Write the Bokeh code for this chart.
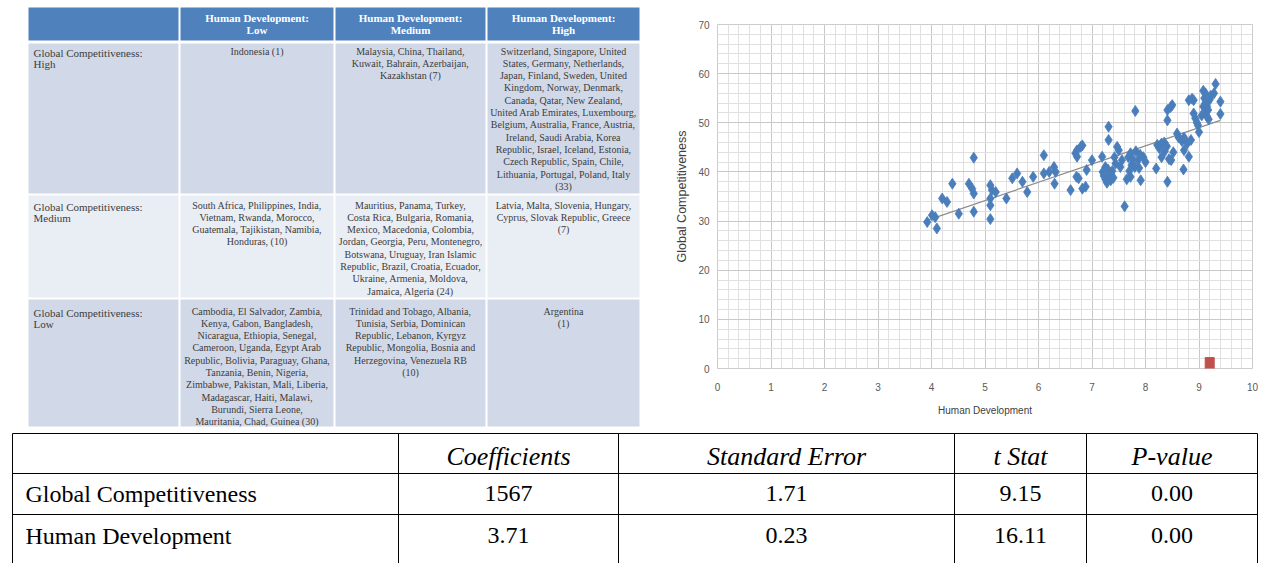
from bokeh.plotting import figure
from bokeh.models import Range1d, SingleIntervalTicker, ColumnDataSource
from bokeh.layouts import column, row
from bokeh.embed import file_html
from bokeh.resources import INLINE
from bokeh.core.properties import value

# ---------------- data: classification table ----------------
hd_headers = ["Human Development:\nLow", "Human Development:\nMedium", "Human Development:\nHigh"]
gc_labels = ["Global Competitiveness:\nHigh", "Global Competitiveness:\nMedium", "Global Competitiveness:\nLow"]
cells_gc_high = [
    "Indonesia (1)",
    "Malaysia, China, Thailand,\nKuwait, Bahrain, Azerbaijan,\nKazakhstan (7)",
    "Switzerland, Singapore, United\nStates, Germany, Netherlands,\nJapan, Finland, Sweden, United\n"
    "Kingdom, Norway, Denmark,\nCanada, Qatar, New Zealand,\nUnited Arab Emirates, Luxembourg,\n"
    "Belgium, Australia, France, Austria,\nIreland, Saudi Arabia, Korea\nRepublic, Israel, Iceland, Estonia,\n"
    "Czech Republic, Spain, Chile,\nLithuania, Portugal, Poland, Italy\n(33)",
]
cells_gc_medium = [
    "South Africa, Philippines, India,\nVietnam, Rwanda, Morocco,\nGuatemala, Tajikistan, Namibia,\nHonduras, (10)",
    "Mauritius, Panama, Turkey,\nCosta Rica, Bulgaria, Romania,\nMexico, Macedonia, Colombia,\n"
    "Jordan, Georgia, Peru, Montenegro,\nBotswana, Uruguay, Iran Islamic\nRepublic, Brazil, Croatia, Ecuador,\n"
    "Ukraine, Armenia, Moldova,\nJamaica, Algeria (24)",
    "Latvia, Malta, Slovenia, Hungary,\nCyprus, Slovak Republic, Greece\n(7)",
]
cells_gc_low = [
    "Cambodia, El Salvador, Zambia,\nKenya, Gabon, Bangladesh,\nNicaragua, Ethiopia, Senegal,\n"
    "Cameroon, Uganda, Egypt Arab\nRepublic, Bolivia, Paraguay, Ghana,\nTanzania, Benin, Nigeria,\n"
    "Zimbabwe, Pakistan, Mali, Liberia,\nMadagascar, Haiti, Malawi,\nBurundi, Sierra Leone,\n"
    "Mauritania, Chad, Guinea (30)",
    "Trinidad and Tobago, Albania,\nTunisia, Serbia, Dominican\nRepublic, Lebanon, Kyrgyz\n"
    "Republic, Mongolia, Bosnia and\nHerzegovina, Venezuela RB\n(10)",
    "Argentina\n(1)",
]

# ---------------- data: scatter ----------------
human_dev = [3.92, 4.01, 4.07, 4.10, 4.20, 4.29, 4.39, 4.51, 4.70, 4.76, 4.79, 4.79, 4.79,
             5.10, 5.13, 5.20, 5.10, 5.10, 5.10,
             5.40, 5.51, 5.60, 5.70, 5.79, 5.90, 6.10, 6.10, 6.20, 6.29, 6.32, 6.30,
             6.60, 6.69, 6.72, 6.71, 6.72, 6.79, 6.82, 6.75, 6.82, 6.88, 6.90, 7.00,
             7.19, 7.31, 7.31, 7.20, 7.22, 7.25, 7.28, 7.30, 7.33, 7.35, 7.25, 7.38, 7.40,
             7.47, 7.50, 7.44, 7.53, 7.56, 7.61, 7.42,
             7.68, 7.72, 7.76, 7.82, 7.86, 7.90, 7.96, 7.70, 7.74, 7.80, 7.72, 7.88, 7.91, 7.81, 7.65, 8.00,
             8.22, 8.26, 8.30, 8.36, 8.40, 8.30, 8.44, 8.48, 8.20, 8.41, 8.41, 8.47, 8.50, 8.41, 8.35, 8.52,
             8.59, 8.62, 8.68, 8.72, 8.78, 8.72, 8.81, 8.71, 8.81, 8.87, 8.90, 8.90, 8.93, 8.96, 8.98, 9.00, 8.85,
             9.08, 9.12, 9.10, 9.12, 9.15, 9.17, 9.08, 9.12, 9.15, 9.18, 9.20, 9.31, 9.28, 9.40, 9.40, 9.22, 9.05]
global_comp = [29.8, 31.2, 30.8, 28.5, 34.6, 33.9, 37.6, 31.5, 37.6, 36.6, 35.6, 31.9, 42.9,
               37.3, 36.3, 35.9, 34.6, 33.2, 30.4,
               34.6, 38.7, 39.7, 38.0, 35.9, 39.0, 43.4, 39.7, 40.0, 41.0, 40.0, 37.6,
               36.3, 43.8, 44.4, 39.0, 43.1, 45.1, 45.4, 38.7, 36.6, 37.0, 40.4, 42.4,
               43.1, 49.2, 46.5, 40.0, 39.2, 38.5, 37.8, 40.5, 39.5, 38.3, 41.0, 40.2, 38.8,
               45.1, 44.4, 41.7, 41.0, 42.4, 33.0, 43.0,
               43.0, 43.8, 42.6, 44.2, 42.4, 43.5, 43.0, 40.2, 41.4, 41.0, 39.0, 40.8, 38.3, 52.4, 38.5, 42.0,
               45.5, 44.8, 45.8, 44.2, 45.2, 43.0, 42.6, 42.4, 40.7, 38.0, 52.6, 53.2, 53.6, 50.5, 46.0, 44.0,
               47.8, 47.0, 46.3, 47.0, 45.8, 44.4, 43.1, 40.5, 54.6, 54.9, 54.6, 51.9, 50.9, 50.0, 49.5, 48.1, 46.5,
               56.5, 56.0, 55.0, 54.0, 53.3, 52.6, 53.3, 52.0, 51.3, 50.7, 54.7, 57.9, 56.0, 54.3, 51.8, 55.5, 51.5]
outlier_hd = [9.2]
outlier_gc = [1.0]
trend_hd = [3.9, 9.4]
trend_gc = [30.1, 50.5]

# ---------------- data: regression table ----------------
reg_columns = ["Coefficients", "Standard Error", "t Stat", "P-value"]
reg_rows = ["Global Competitiveness", "Human Development"]
reg_coef = ["1567", "3.71"]
reg_se = ["1.71", "0.23"]
reg_t = ["9.15", "16.11"]
reg_p = ["0.00", "0.00"]

SERIF = value("Liberation Serif")

# ================= left: classification table =================
tb = figure(width=663, height=430, x_range=Range1d(0, 663), y_range=Range1d(430, 0),
            x_axis_location=None, y_axis_location=None, toolbar_location=None,
            output_backend="svg", min_border=0, outline_line_color=None, frame_align=False)
tb.grid.visible = False
col_edges = [27, 179, 334, 486, 640]
row_edges = [6, 41, 194, 298, 427]
row_fill = ["#4F81BD", "#D1D9E8", "#E9EDF4", "#D1D9E8"]
lefts, rights, tops, bottoms, fills = [], [], [], [], []
for r in range(4):
    for c in range(4):
        lefts.append(col_edges[c] + 1)
        rights.append(col_edges[c + 1] - 1)
        tops.append(row_edges[r] + (2 if r == 1 else 1))
        bottoms.append(row_edges[r + 1] - 1)
        fills.append(row_fill[r])
tb.quad(left=lefts, right=rights, top=tops, bottom=bottoms, fill_color=fills, line_color=None)

col_centers = [(col_edges[i] + col_edges[i + 1]) / 2 for i in range(1, 4)]
tb.text(x=col_centers, y=[11] * 3, text=hd_headers, text_align="center", text_baseline="top",
        text_font=SERIF, text_font_style="bold", text_font_size="11px", text_color="white",
        text_line_height=1.05)
row_tops = [45, 199, 305]
tb.text(x=[33] * 3, y=[r + 1 for r in row_tops], text=gc_labels, text_align="left", text_baseline="top",
        text_font=SERIF, text_font_size="11px", text_color="#3c3c3c", text_line_height=0.95)
for cells, yt in zip([cells_gc_high, cells_gc_medium, cells_gc_low], row_tops):
    tb.text(x=col_centers, y=[yt] * 3, text=cells, text_align="center", text_baseline="top",
            text_font=SERIF, text_font_size="10px", text_color="#3c3c3c", text_line_height=1.12)

# ================= right: scatter =================
sp = figure(width=604, height=430, x_range=Range1d(0, 10), y_range=Range1d(0, 70),
            toolbar_location=None, output_backend="svg", frame_align=False,
            min_border_left=54, min_border_right=15, min_border_top=24, min_border_bottom=62,
            outline_line_color="#cccccc")
sp.xaxis.ticker = SingleIntervalTicker(interval=1, num_minor_ticks=5)
sp.yaxis.ticker = SingleIntervalTicker(interval=10, num_minor_ticks=5)
for g in (sp.xgrid, sp.ygrid):
    g.grid_line_color = "#c8c8c8"
    g.minor_grid_line_color = "#e0e0e0"
    g.grid_line_width = 1
for ax in (sp.xaxis, sp.yaxis):
    ax.axis_line_color = None
    ax.major_tick_line_color = None
    ax.minor_tick_line_color = None
    ax.major_tick_out = 0
    ax.major_tick_in = 0
    ax.minor_tick_out = 0
    ax.minor_tick_in = 0
    ax.major_label_text_font = "Liberation Sans"
    ax.major_label_text_font_size = "10px"
    ax.major_label_text_color = "#595959"
    ax.axis_label_text_font = "Liberation Sans"
    ax.axis_label_text_font_style = "normal"
    ax.axis_label_text_color = "#404040"
sp.xaxis.axis_label = "Human Development"
sp.yaxis.axis_label = "Global Competitiveness"
sp.xaxis.axis_label_text_font_size = "10px"
sp.yaxis.axis_label_text_font_size = "12.5px"
sp.xaxis.major_label_standoff = 14
sp.xaxis.axis_label_standoff = 11
sp.yaxis.major_label_standoff = 8
sp.yaxis.axis_label_standoff = 6

src = ColumnDataSource(dict(x=human_dev, y=global_comp))
sp.line(trend_hd, trend_gc, line_color="#8c8c8c", line_width=1.2)
sp.scatter("x", "y", source=src, marker="diamond", size=11, fill_color="#4A7EBB",
           line_color="#4A7EBB", line_width=0.8)
sp.rect(outlier_hd, outlier_gc, width=9, height=12, width_units="screen", height_units="screen",
        fill_color="#C0504D", line_color="#C0504D")

# ================= bottom: regression table =================
bt = figure(width=1267, height=133, x_range=Range1d(0, 1267), y_range=Range1d(563, 430),
            x_axis_location=None, y_axis_location=None, toolbar_location=None,
            output_backend="svg", min_border=0, outline_line_color=None, frame_align=False)
bt.grid.visible = False
v_edges = [12, 398, 618, 954, 1086, 1257]
h_edges = [433, 473, 514]
bt.segment(x0=v_edges, y0=[433] * len(v_edges), x1=v_edges, y1=[563] * len(v_edges),
           line_color="black", line_width=1)
bt.segment(x0=[12] * len(h_edges), y0=h_edges, x1=[1257] * len(h_edges), y1=h_edges,
           line_color="black", line_width=1)
bcent = [(v_edges[i] + v_edges[i + 1]) / 2 for i in range(1, 5)]
bt.text(x=bcent, y=[456] * 4, text=reg_columns, text_align="center", text_baseline="middle",
        text_font=SERIF, text_font_style="italic", text_font_size="26px", text_color="black")
row_y = [493, 535]
bt.text(x=[25, 25], y=row_y, text=reg_rows, text_align="left", text_baseline="middle",
        text_font=SERIF, text_font_size="24px", text_color="black")
for vals, cx in zip([reg_coef, reg_se, reg_t, reg_p], bcent):
    bt.text(x=[cx, cx], y=row_y, text=vals, text_align="center", text_baseline="middle",
            text_font=SERIF, text_font_size="24px", text_color="black")

layout = column(row(tb, sp, spacing=0), bt, spacing=0)
open("out.html", "w").write(file_html(layout, INLINE))
